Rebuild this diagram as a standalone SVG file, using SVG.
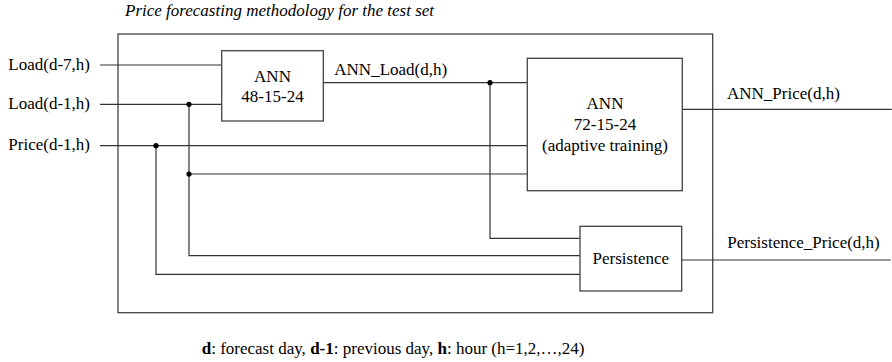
<svg xmlns="http://www.w3.org/2000/svg" width="892" height="362" viewBox="0 0 892 362" font-family="'Liberation Serif', 'Times New Roman', 'DejaVu Serif', serif">
<style>
text{font-family:'Liberation Serif','Times New Roman','DejaVu Serif',serif;font-size:17px;fill:#000}
.c{text-anchor:middle}
.r{text-anchor:end}
.box{fill:#fff;stroke:#444;stroke-width:1.3}
.ln{fill:none;stroke:#333;stroke-width:1.2}
.dot{fill:#000}
</style>
<rect width="892" height="362" fill="#fff"/>
<text x="125" y="16" font-style="italic">Price forecasting methodology for the test set</text>
<g id="frame"><rect class="box" x="118" y="34" width="594.7" height="278.7" fill="none" style="fill:none"/></g>
<g id="connectors">
<path class="ln" d="M100 65H222"/>
<path class="ln" d="M100 104.3H222"/>
<path class="ln" d="M100 145.7H527.3"/>
<path class="ln" d="M189 104.3V255.7H580"/>
<path class="ln" d="M189 174H527.3"/>
<path class="ln" d="M156 145.7V274.3H580"/>
<path class="ln" d="M323.3 82.7H527.3"/>
<path class="ln" d="M490 82.7V238.3H580"/>
<path class="ln" d="M682.3 109.3H891.7"/>
<path class="ln" d="M681.7 260H890.7"/>
<circle class="dot" cx="189" cy="104.3" r="2.6"/>
<circle class="dot" cx="189" cy="174" r="2.6"/>
<circle class="dot" cx="156" cy="145.7" r="2.6"/>
<circle class="dot" cx="490" cy="82.7" r="2.6"/>
</g>
<g id="in-load7"><text class="r" x="90" y="69.5">Load(d-7,h)</text></g>
<g id="in-load1"><text class="r" x="90" y="108.8">Load(d-1,h)</text></g>
<g id="in-price1"><text class="r" x="90" y="150.2">Price(d-1,h)</text></g>
<g id="ann1">
<rect class="box" x="221.7" y="50.7" width="101.6" height="70.3"/>
<text class="c" x="272.5" y="81.7">ANN</text>
<text class="c" x="272.5" y="101.7">48-15-24</text>
</g>
<g id="lbl-annload"><text x="334.3" y="75.3">ANN_Load(d,h)</text></g>
<g id="ann2">
<rect class="box" x="527.3" y="58.3" width="155" height="132.4"/>
<text class="c" x="605" y="109">ANN</text>
<text class="c" x="605" y="130">72-15-24</text>
<text class="c" x="605" y="151">(adaptive training)</text>
</g>
<g id="lbl-annprice"><text x="727" y="99">ANN_Price(d,h)</text></g>
<g id="persistence">
<rect class="box" x="580" y="226.3" width="101.7" height="64.7"/>
<text class="c" x="630.8" y="264">Persistence</text>
</g>
<g id="lbl-persprice"><text x="727.3" y="248.3">Persistence_Price(d,h)</text></g>
<text x="201.7" y="354"><tspan font-weight="bold">d</tspan>: forecast day, <tspan font-weight="bold">d-1</tspan>: previous day, <tspan font-weight="bold">h</tspan>: hour (h=1,2,…,24)</text>
</svg>
